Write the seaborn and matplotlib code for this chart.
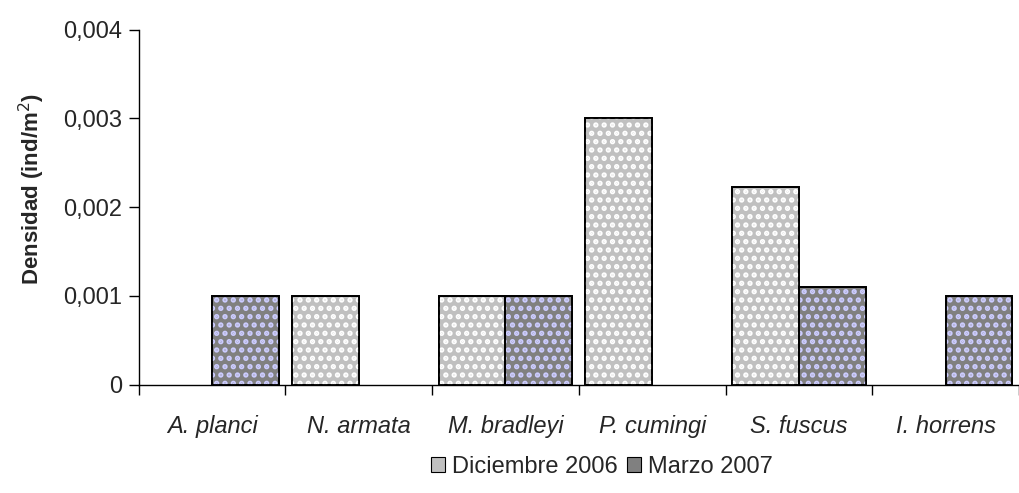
import numpy as np
import pandas as pd
import matplotlib
matplotlib.use("Agg")
import matplotlib.pyplot as plt
import seaborn as sns
from matplotlib.patches import Patch

species = ['A. planci', 'N. armata', 'M. bradleyi', 'P. cumingi', 'S. fuscus', 'I. horrens']
series = ['Diciembre 2006', 'Marzo 2007']
dic_2006 = [0, 0.001, 0.001, 0.003, 0.00223, 0]
mar_2007 = [0.001, 0, 0.001, 0, 0.0011, 0.001]

face_cols = {'Diciembre 2006': '#c0c0c0', 'Marzo 2007': '#808080'}
dot_cols = {'Diciembre 2006': '#ffffff', 'Marzo 2007': '#ccccff'}

df = pd.DataFrame({
    'especie': species * 2,
    'serie': [series[0]] * len(species) + [series[1]] * len(species),
    'densidad': dic_2006 + mar_2007,
})

sns.set_style('white')
plt.rcParams['font.family'] = ['Liberation Sans', 'DejaVu Sans']
plt.rcParams['hatch.linewidth'] = 2.6

fig, ax = plt.subplots(figsize=(10.2, 4.93), dpi=100)
fig.subplots_adjust(left=0.136, right=0.999, top=0.94, bottom=0.22)

sns.barplot(data=df, x='especie', y='densidad', hue='serie', order=species,
            hue_order=series, palette=face_cols, width=0.91, gap=0,
            edgecolor='black', linewidth=1.3, legend=False, ax=ax)

# white / lavender dot texture drawn on top of each bar
for cont, s in zip(ax.containers, series):
    for bar in cont:
        if bar.get_height() <= 0:
            bar.set_visible(False)
            continue
        ax.bar(bar.get_x() + bar.get_width() / 2, bar.get_height(),
               width=bar.get_width(), facecolor='none', edgecolor=dot_cols[s],
               hatch='..', linewidth=0, zorder=bar.get_zorder() + 0.1)
        ax.bar(bar.get_x() + bar.get_width() / 2, bar.get_height(),
               width=bar.get_width(), facecolor='none', edgecolor='black',
               linewidth=1.3, zorder=bar.get_zorder() + 0.2)

ax.set_xlim(-0.5, len(species) - 0.5)
ax.set_ylim(0, 0.004)
ax.set_yticks([0, 0.001, 0.002, 0.003, 0.004])
ax.set_yticklabels(['0', '0,001', '0,002', '0,003', '0,004'], fontsize=17)
ax.set_xticks(np.arange(len(species)))
ax.set_xticklabels(species, fontsize=17, style='italic')
ax.tick_params(axis='x', which='major', length=0, pad=22)
ax.set_xticks(np.arange(len(species) + 1) - 0.5, minor=True)
ax.tick_params(axis='x', which='minor', bottom=True, direction='out',
               length=7, width=1, color='black')
ax.tick_params(axis='y', left=True, direction='out', length=7, width=1,
               color='black', pad=5)

ax.set_xlabel('')
ax.set_ylabel('Densidad (ind/m$^2$)', fontsize=16, fontweight='bold')
ax.yaxis.set_label_coords(-0.104, 0.55)

for side in ['top', 'right']:
    ax.spines[side].set_visible(False)
for side in ['left', 'bottom']:
    ax.spines[side].set_color('black')
    ax.spines[side].set_linewidth(1)

handles = [Patch(facecolor=face_cols[s], edgecolor='black', linewidth=0.8, label=s)
           for s in series]
fig.legend(handles=handles, loc='lower center', bbox_to_anchor=(0.59, -0.012),
           ncol=2, frameon=False, fontsize=17, handlelength=0.6, handleheight=0.6,
           handletextpad=0.3, columnspacing=0.4)

fig.savefig('out.png', dpi=100)
